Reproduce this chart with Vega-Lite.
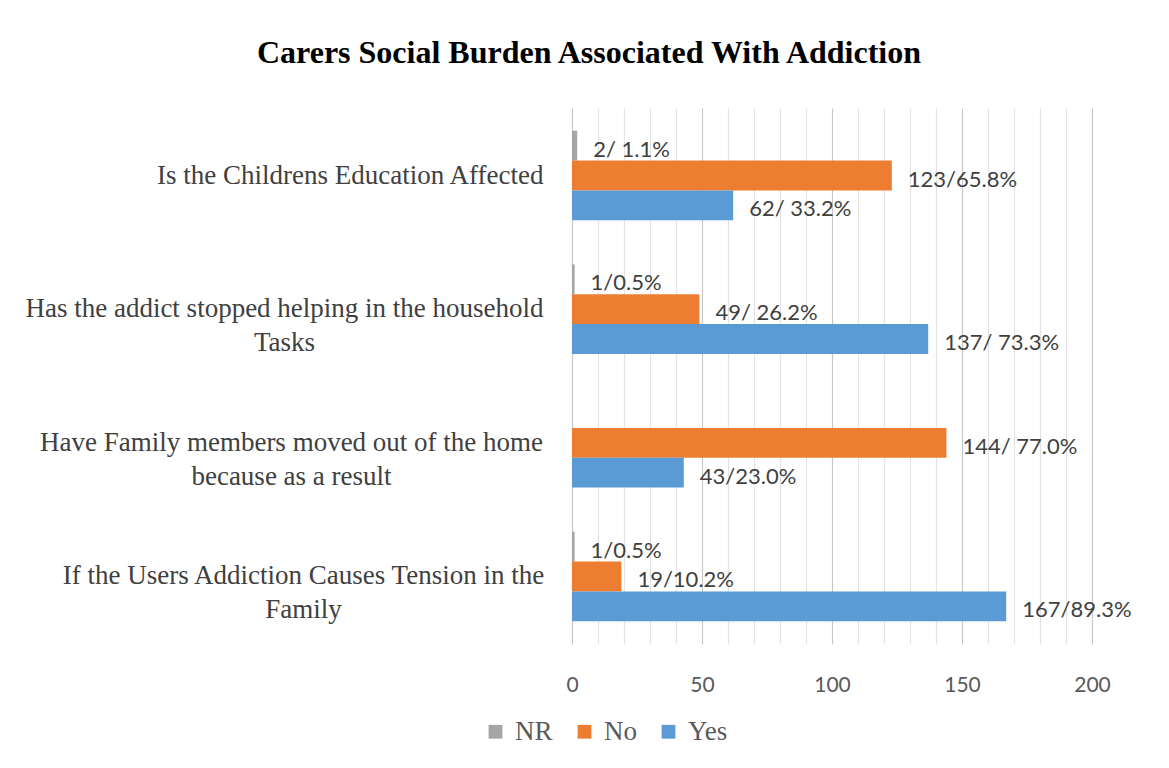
{
  "$schema": "https://vega.github.io/schema/vega-lite/v6.json",
  "autosize": {"type": "none"},
  "width": 520,
  "height": 536,
  "padding": {"left": 572, "top": 108, "right": 77, "bottom": 124},
  "background": "white",
  "title": {
    "text": "Carers Social Burden Associated With Addiction",
    "font": "Liberation Serif",
    "fontSize": 32,
    "fontWeight": "bold",
    "color": "#000000",
    "anchor": "middle",
    "dx": -243,
    "offset": 38
  },
  "data": {
    "values": [
      {"question": "Is the Childrens Education Affected", "response": "NR", "count": 2, "label": "2/ 1.1%"},
      {"question": "Is the Childrens Education Affected", "response": "No", "count": 123, "label": "123/65.8%"},
      {"question": "Is the Childrens Education Affected", "response": "Yes", "count": 62, "label": "62/ 33.2%"},
      {"question": "Has the addict stopped helping in the household Tasks", "response": "NR", "count": 1, "label": "1/0.5%"},
      {"question": "Has the addict stopped helping in the household Tasks", "response": "No", "count": 49, "label": "49/ 26.2%"},
      {"question": "Has the addict stopped helping in the household Tasks", "response": "Yes", "count": 137, "label": "137/ 73.3%"},
      {"question": "Have Family members moved out of the home because as a result", "response": "No", "count": 144, "label": "144/ 77.0%"},
      {"question": "Have Family members moved out of the home because as a result", "response": "Yes", "count": 43, "label": "43/23.0%"},
      {"question": "If the Users Addiction Causes Tension in the Family", "response": "NR", "count": 1, "label": "1/0.5%"},
      {"question": "If the Users Addiction Causes Tension in the Family", "response": "No", "count": 19, "label": "19/10.2%"},
      {"question": "If the Users Addiction Causes Tension in the Family", "response": "Yes", "count": 167, "label": "167/89.3%"}
    ]
  },
  "encoding": {
    "y": {
      "field": "question",
      "type": "nominal",
      "sort": null,
      "scale": {"paddingInner": 0.33, "paddingOuter": 0.17},
      "axis": {
        "title": null,
        "domain": false,
        "ticks": false,
        "labelAlign": {"condition": {"test": "datum.value == 'Is the Childrens Education Affected'", "value": "right"}, "value": "center"},
        "labelPadding": {"condition": [
          {"test": "datum.value == 'Has the addict stopped helping in the household Tasks'", "value": 288},
          {"test": "datum.value == 'Have Family members moved out of the home because as a result'", "value": 281},
          {"test": "datum.value == 'If the Users Addiction Causes Tension in the Family'", "value": 269}
        ], "value": 29},
        "labelFont": "Liberation Serif",
        "labelFontSize": 27,
        "labelColor": "#404040",
        "labelLimit": 700,
        "labelLineHeight": 34,
        "labelExpr": "datum.label == 'Has the addict stopped helping in the household Tasks' ? ['Has the addict stopped helping in the household', 'Tasks'] : datum.label == 'Have Family members moved out of the home because as a result' ? ['Have Family members moved out of the home', 'because as a result'] : datum.label == 'If the Users Addiction Causes Tension in the Family' ? ['If the Users Addiction Causes Tension in the', 'Family'] : datum.label"
      }
    },
    "yOffset": {
      "field": "response",
      "type": "nominal",
      "sort": ["NR", "No", "Yes"],
      "scale": {"domain": ["NR", "No", "Yes"]}
    },
    "x": {
      "field": "count",
      "type": "quantitative",
      "scale": {"domain": [0, 200], "nice": false},
      "axis": {
        "title": null,
        "domain": false,
        "ticks": false,
        "values": [0,10,20,30,40,50,60,70,80,90,100,110,120,130,140,150,160,170,180,190,200],
        "labelExpr": "datum.value % 50 === 0 ? datum.label : ''",
        "labelFlush": false,
        "labelPadding": 30,
        "labelFont": "Lato",
        "labelFontSize": 21,
        "labelColor": "#595959",
        "gridColor": {"condition": {"test": "datum.value % 50 === 0", "value": "#c8c8c8"}, "value": "#e3e3e3"},
        "gridWidth": 1.2
      }
    }
  },
  "layer": [
    {
      "mark": {"type": "bar"},
      "encoding": {
        "color": {
          "field": "response",
          "type": "nominal",
          "scale": {"domain": ["NR", "No", "Yes"], "range": ["#A5A5A5", "#ED7D31", "#5B9BD5"]},
          "legend": {
            "title": null,
            "orient": "none",
            "direction": "horizontal",
            "legendX": -90,
            "legendY": 610,
            "symbolType": "square",
            "symbolSize": 190,
            "symbolStrokeWidth": 0,
            "labelFont": "Liberation Serif",
            "labelFontSize": 27,
            "labelColor": "#595959",
            "columnPadding": 18,
            "labelOffset": 6
          }
        }
      }
    },
    {
      "mark": {"type": "text", "align": "left", "baseline": "middle", "dx": 16, "dy": 4, "font": "Lato", "fontSize": 22, "color": "#404040"},
      "encoding": {
        "text": {"field": "label"}
      }
    }
  ],
  "config": {
    "view": {"stroke": null}
  }
}
